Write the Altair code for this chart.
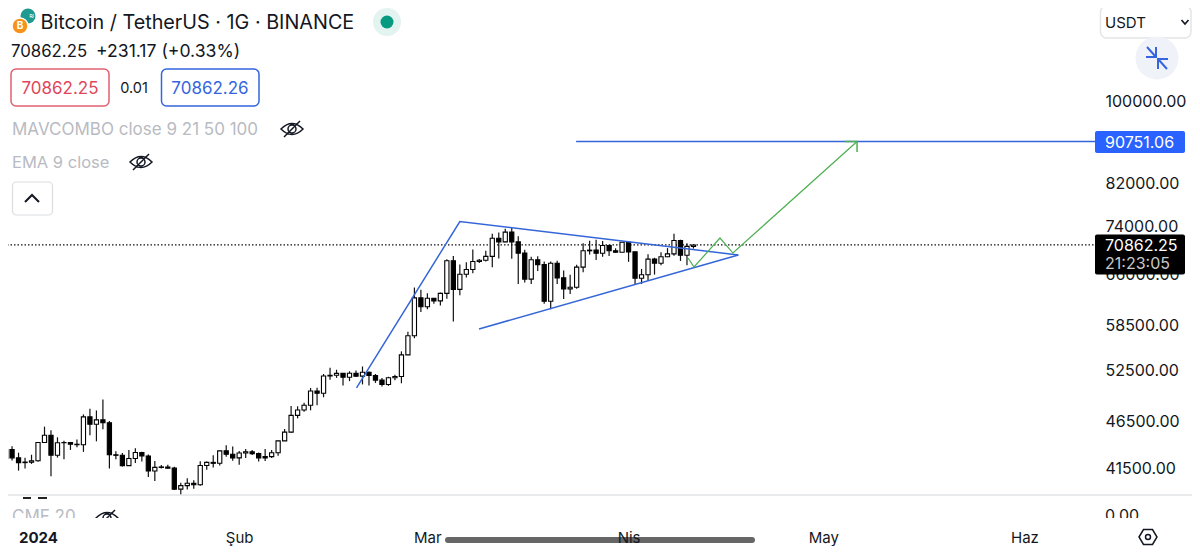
import altair as alt
import pandas as pd

# ---- daily candles, 27 Dec 2023 .. 11 Apr 2024
start_date = "2023-12-27"
opens = [42514,43428,42581,42099,42152,
 42283,44179,44946,42845,44151,44162,43989,43943,46970,46139,46632,46314,42893,42842,41796,42511,43137,42776,41262,41618,41665,41545,39507,39845,40077,39933,41816,42120,42031,43300,42946,
 42580,43082,43200,43011,42582,42708,43098,44349,45288,47132,47751,48293,49958,49699,51795,51880,52124,51642,52137,51774,52258,51849,51288,50744,51568,51728,54476,57037,62432,
 61130,62387,61987,63113,68245,63724,66074,66823,68124,68313,68955,72000,71392,73072,71388,69499,65300,68393,67609,61937,67840,65501,63796,64037,67211,69880,69988,69469,70780,69897,69645,
 71333,69702,65446,65980,68508,67837,68896,69360,71620,69146,70631]
highs = [43683,43787,43111,42604,42899,
 44184,45879,45500,44729,44357,44214,44495,47248,47893,47695,48969,46515,43257,43079,43400,43578,43198,42930,42250,41869,41890,41689,40129,40555,40348,42225,42200,42842,43305,43882,43745,
 43285,43488,43380,43119,43494,43399,44369,45614,48200,48170,48592,50334,50368,52043,52816,52572,52160,52377,52488,52985,52366,52042,51548,51698,51958,54938,57588,64000,63676,
 63114,62433,63231,68499,69000,67637,67985,70083,68541,69887,72800,73000,73650,73777,72357,70043,68904,68956,68124,68100,68240,66649,65999,67587,71150,71561,71769,71552,70916,70300,71377,
 71366,69708,66914,69291,68725,69629,70326,72797,71758,71172,70950]
lows = [42105,42300,41300,41520,41965,
 42180,44148,40750,42613,42450,43397,43662,43198,44955,44300,45606,41500,42436,41720,41750,42050,42200,40683,40280,41500,41500,39431,38555,39484,39550,39825,41394,41620,41804,42683,42276,
 41884,42574,42880,42222,42258,42574,42788,44331,45242,46800,47557,47710,48300,49225,51315,51559,50625,51163,51677,50760,50625,50940,50500,50585,51280,50901,54450,56691,60364,
 60777,61561,61320,62300,59005,62848,65550,66230,67862,68094,67194,68620,71333,68555,64533,64780,64533,66565,61555,60775,64529,62260,63000,63812,66385,69280,68359,68903,69009,69538,69624,
 68062,64550,64559,65064,66011,67491,68824,69043,68210,67518,70250]
closes = [43428,42581,42099,42152,42283,
 44179,44946,42845,44151,44162,43989,43943,46970,46139,46632,46314,42893,42842,41796,42511,43137,42776,41262,41618,41665,41545,39507,39845,40077,39933,41816,42120,42031,43300,42946,42580,
 43082,43200,43011,42582,42708,43098,44349,45288,47132,47751,48293,49958,49699,51795,51880,52124,51642,52137,51774,52258,51849,51288,50744,51568,51728,54476,57037,62432,61130,
 62387,61987,63113,68245,63724,66074,66823,68124,68313,68955,72000,71392,73072,71388,69499,65300,68393,67609,61937,67840,65501,63796,64037,67211,69880,69988,69469,70780,69897,69645,71333,
 69702,65446,65980,68508,67837,68896,69360,71620,69146,70631,70862.25]

# ---- drawn trend lines (date, price)
flag_t = ["2024-02-19T02:00:00Z","2024-03-06T00:00:00Z","2024-04-17T22:00:00Z"]
flag_p = [50330,74950,69180]
lower_t = ["2024-03-08T23:00:00Z","2024-04-17T22:00:00Z"]
lower_p = [57960,69180]
target_t = ["2024-03-23T22:00:00Z","2024-06-11T21:00:00Z"]
target_p = [90751.06,90751.06]
green_t = ["2024-04-10T04:00:00Z","2024-04-11T02:00:00Z","2024-04-15T02:00:00Z","2024-04-17T02:00:00Z","2024-05-06T05:00:00Z"]
green_p = [68690,67220,72050,69510,90751]
head_t = ["2024-05-04T08:00:00Z","2024-05-06T05:00:00Z","2024-05-06T05:00:00Z"]
head_p = [90751,90751,88510]
last_price = 70862.25

price_ticks = [100000,82000,74000,66000,58500,52500,46500,41500]
month_ticks = ["2024-01-01T00:00:00Z","2024-02-01T00:00:00Z","2024-03-01T00:00:00Z","2024-04-01T00:00:00Z","2024-05-01T00:00:00Z","2024-06-01T00:00:00Z"]
month_names = ["2024","Şub","Mar","Nis","May","Haz"]

FONT = "Inter"
INK = "#131722"
GRAY = "#b8bbc2"
BLUE = "#3566e0"
RED = "#e0475c"
GREEN = "#4caf50"
TREND = "#3566d8"

dates = pd.date_range(start_date, periods=len(opens)).strftime("%Y-%m-%dT00:00:00Z")
candles = pd.DataFrame({"date": dates, "open": opens, "high": highs, "low": lows, "close": closes})
ONE = alt.Data(values=[{"a": 0}])

x_scale = alt.Scale(type="utc", domain=["2023-12-27T09:00:00Z", "2024-06-11T21:00:00Z"], padding=0)
y_scale = alt.Scale(type="log", domain=[38960, 124920], nice=False)
label_expr = "[" + ",".join(f"'{m}'" for m in month_names) + "][utcmonth(datum.value)]"
x_enc = alt.X("date:T", scale=x_scale, title=None, axis=alt.Axis(
    values=month_ticks, labelExpr=label_expr, labelFont=FONT, labelFontSize=15, labelColor=INK,
    labelFontWeight={"condition": {"test": "utcmonth(datum.value)==0", "value": "bold"}, "value": "normal"},
    labelPadding=42, labelBaseline="middle", labelOverlap=False, labelFlush=False,
    ticks=False, domain=False, grid=False, zindex=1))
y_enc = alt.Y("low:Q", scale=y_scale, title=None, axis=alt.Axis(
    orient="right", values=price_ticks, format=".2f", labelFont=FONT, labelFontSize=16, labelColor=INK,
    labelPadding=10, labelBaseline="middle", labelOverlap=False, labelFlush=False,
    ticks=False, domain=False, grid=False, zindex=0))


def txt(s, x, y, size=16, color=INK, weight="normal", align="left"):
    return alt.Chart(ONE).mark_text(font=FONT, fontSize=size, color=color, fontWeight=weight,
                                    align=align, baseline="middle").encode(
        x=alt.value(x - 8), y=alt.value(y - 7), text=alt.value(s))


def box(x0, x1, y0, y1, fill="white", stroke=None, radius=0, sw=1.5):
    kw = dict(fill=fill, cornerRadius=radius)
    if stroke:
        kw.update(stroke=stroke, strokeWidth=sw)
    return alt.Chart(ONE).mark_rect(**kw).encode(
        x=alt.value(x0 - 8), x2=alt.value(x1 - 8), y=alt.value(y0 - 8), y2=alt.value(y1 - 8))


def icon(path, x, y, color=INK, sw=1.5):
    return alt.Chart(ONE).mark_point(shape=path, size=4, filled=False, stroke=color, strokeWidth=sw, opacity=1).encode(
        x=alt.value(x - 8), y=alt.value(y - 8))


def dot(x, y, r, color, stroke=None):
    kw = dict(stroke=stroke, strokeWidth=1.5) if stroke else {}
    return alt.Chart(ONE).mark_circle(size=(2 * r) ** 2, color=color, opacity=1, **kw).encode(
        x=alt.value(x - 8), y=alt.value(y - 8))


def hline(x0, x1, y, color, sw, cap="butt"):
    return alt.Chart(ONE).mark_rule(color=color, strokeWidth=sw, strokeCap=cap).encode(
        x=alt.value(x0 - 8), x2=alt.value(x1 - 8), y=alt.value(y - 8))


def polyline(ts, ps, color, sw):
    d = pd.DataFrame({"date": ts, "p": ps, "i": range(len(ts))})
    return alt.Chart(d).mark_line(color=color, strokeWidth=sw, clip=True).encode(
        x=alt.X("date:T", scale=x_scale), y=alt.Y("p:Q", scale=y_scale), order="i:Q")


EYE = "M-11,0Q0,-11 11,0Q0,11 -11,0ZM-4,0A4,4 0 1,1 4,0A4,4 0 1,1 -4,0M-8,8L8,-8"
ARROWS = "M-10,-11L-1,-1M-11,-1L-1,-1L-1,-11M10,11L1,1M11,1L1,1L1,11"
HEX = "M-9,0L-4.5,-7.5L4.5,-7.5L9,0L4.5,7.5L-4.5,7.5ZM-2.5,0A2.5,2.5 0 1,1 2.5,0A2.5,2.5 0 1,1 -2.5,0"

price_dotted = alt.Chart(ONE).mark_rule(color="#111111", strokeWidth=1.2, strokeDash=[1.5, 2]).encode(
    y=alt.Y("p:Q", scale=y_scale, title=None), x=alt.value(-8), x2=alt.value(1087)
).transform_calculate(p=str(last_price))

wicks = alt.Chart(candles).mark_rule(color="#111111", strokeWidth=1.2, clip=True).encode(
    x=x_enc, y=y_enc, y2="high:Q")
bodies = alt.Chart(candles).mark_bar(size=4.2, stroke="#000000", strokeWidth=1.1, clip=True).encode(
    x=alt.X("date:T", scale=x_scale),
    y=alt.Y("open:Q", scale=y_scale),
    y2="close:Q",
    fill=alt.condition("datum.close >= datum.open", alt.value("white"), alt.value("black")))

layers = [
    price_dotted, wicks, bodies,
    polyline(flag_t, flag_p, TREND, 1.5),
    polyline(lower_t, lower_p, TREND, 1.5),
    polyline(target_t, target_p, TREND, 1.5),
    polyline(green_t, green_p, GREEN, 1.2),
    polyline(head_t, head_p, GREEN, 1.5),
    # panel below the price pane
    hline(0, 1192, 495, "#e2e3e5", 1.5),
    box(23, 31, 497, 499, fill="#222222"),
    box(38, 47, 497, 499, fill="#222222"),
    txt("CMF 20", 12, 516, 17, GRAY),
    icon(EYE, 107, 518, INK),
    txt("0.00", 1105, 515, 16, INK),
    box(8, 1192, 518, 529),
    hline(448, 752, 540, "#666666", 6, "round"),
    icon(HEX, 1148, 537, INK),
    # header
    dot(28, 16, 7.5, "#1f9a90"),
    txt("≈", 29, 15, 8, "white"),
    dot(20, 26, 8, "#f7931a", "white"),
    txt("B", 20, 25, 10, "white", "bold", "center"),
    txt("Bitcoin / TetherUS · 1G · BINANCE", 40.5, 22, 19.8, INK),
    dot(387, 22, 14, "#e3f3f0"),
    dot(387, 22, 6.5, "#089981"),
    txt("70862.25", 11, 51, 16.8, INK),
    txt("+231.17 (+0.33%)", 96, 51, 17.6, INK),
    box(11, 109, 69, 106, stroke="#e2606f", radius=5),
    txt("70862.25", 60, 88, 17, RED, align="center"),
    txt("0.01", 134, 88, 14.5, INK, align="center"),
    box(161.5, 259, 69, 106, stroke=BLUE, radius=5),
    txt("70862.26", 210, 88, 17, BLUE, align="center"),
    txt("MAVCOMBO close 9 21 50 100", 12, 129, 17, GRAY),
    icon(EYE, 292, 129, INK),
    txt("EMA 9 close", 12, 162, 16.5, GRAY),
    icon(EYE, 141, 162, INK),
    box(12.5, 52.5, 182, 215, stroke="#dcdde0", radius=4, sw=1.2),
    icon("M-7,4L0,-3L7,4", 32, 198, INK, 2),
    # right side
    box(1100.5, 1191, 6, 38, stroke="#e4e5e8", radius=6),
    txt("USDT", 1105, 22, 15, INK),
    icon("M-3.5,-2L0,2L3.5,-2", 1185, 22, INK, 1.6),
    dot(1157, 58, 21.5, "#eff2f9"),
    icon(ARROWS, 1157, 58, BLUE, 2),
    box(1095, 1185, 131, 153, fill="#2962ff", radius=2),
    txt("90751.06", 1105, 142, 16, "white"),
    box(1095, 1185, 234.5, 274.5, fill="#000000", radius=2),
    txt("70862.25", 1105, 245, 16, "white"),
    txt("21:23:05", 1105, 263, 16, "#c9c9c9"),
]

chart = alt.layer(*layers).resolve_scale(x="shared", y="shared").properties(
    width=1087, height=487, autosize="none",
    padding={"left": 0, "top": 0, "right": 97, "bottom": 51},
    background="white",
).configure_view(stroke=None)

chart.save("out.html", embed_options={"renderer": "svg", "actions": False})
